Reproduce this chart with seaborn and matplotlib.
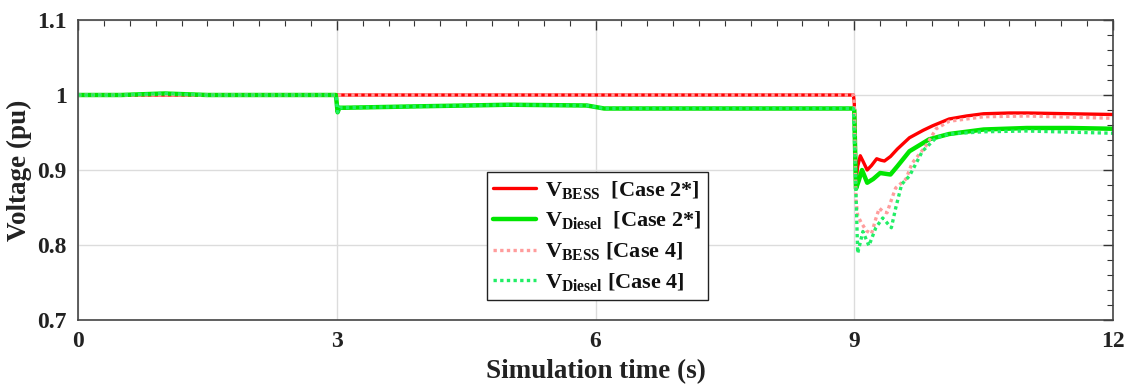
import numpy as np
import pandas as pd
import matplotlib
matplotlib.use("Agg")
import matplotlib.pyplot as plt
import seaborn as sns
from matplotlib.ticker import MultipleLocator, FuncFormatter

# ---------------- data ----------------
t_bess2 = [0, 8.99, 9.0, 9.02, 9.04, 9.07, 9.1, 9.15, 9.2, 9.26, 9.31, 9.35, 9.42, 9.5,
           9.64, 9.8, 9.91, 10.1, 10.3, 10.5, 10.8, 11.0, 11.5, 12.0]
v_bess2 = [1.0, 1.0, 0.99, 0.885, 0.905, 0.919, 0.912, 0.900, 0.906, 0.915, 0.913, 0.912, 0.918, 0.928,
           0.943, 0.953, 0.959, 0.968, 0.972, 0.975, 0.976, 0.976, 0.975, 0.974]

t_dsl2 = [0, 0.5, 1.0, 1.5, 2.0, 2.99, 3.01, 3.03, 3.1, 4.0, 5.0, 5.9, 6.0, 6.1, 8.99,
          9.0, 9.02, 9.05, 9.09, 9.15, 9.22, 9.3, 9.36, 9.42, 9.5, 9.64, 9.87, 10.1, 10.5,
          11.0, 11.5, 12.0]
v_dsl2 = [1.0, 1.0, 1.002, 1.0, 1.0, 1.0, 0.977, 0.983, 0.983, 0.985, 0.987, 0.986, 0.984, 0.982, 0.982,
          0.98, 0.875, 0.885, 0.900, 0.883, 0.888, 0.896, 0.895, 0.894, 0.905, 0.925, 0.941, 0.948, 0.954,
          0.956, 0.956, 0.955]

t_bess4 = [0, 8.99, 9.0, 9.02, 9.04, 9.08, 9.14, 9.2, 9.25, 9.29, 9.33, 9.38, 9.43, 9.48,
           9.6, 9.67, 9.83, 9.95, 10.1, 10.5, 11.0, 12.0]
v_bess4 = [1.0, 1.0, 0.99, 0.86, 0.839, 0.830, 0.819, 0.815, 0.835, 0.849, 0.845, 0.843, 0.860, 0.876,
           0.888, 0.909, 0.932, 0.955, 0.965, 0.971, 0.972, 0.969]

t_dsl4 = [0, 0.5, 1.0, 1.5, 2.0, 2.99, 3.01, 3.03, 3.1, 4.0, 5.0, 5.9, 6.0, 6.1, 8.99,
          9.0, 9.04, 9.1, 9.17, 9.25, 9.33, 9.43, 9.48, 9.55, 9.64, 9.79, 9.95, 10.1,
          10.5, 11.0, 12.0]
v_dsl4 = [1.0, 1.0, 1.002, 1.0, 1.0, 1.0, 0.977, 0.983, 0.983, 0.985, 0.987, 0.986, 0.984, 0.982, 0.982,
          0.95, 0.789, 0.818, 0.799, 0.823, 0.836, 0.823, 0.849, 0.881, 0.892, 0.925, 0.943, 0.948,
          0.951, 0.952, 0.949]

labels = [r'$\mathbf{V}_{\mathbf{BESS}}$  [Case 2*]',
          r'$\mathbf{V}_{\mathbf{Diesel}}$  [Case 2*]',
          r'$\mathbf{V}_{\mathbf{BESS}}$ [Case 4]',
          r'$\mathbf{V}_{\mathbf{Diesel}}$ [Case 4]']

x_ticks = [0, 3, 6, 9, 12]
y_ticks = [0.7, 0.8, 0.9, 1.0, 1.1]

# ---------------- style ----------------
sns.set_theme(style="white")
plt.rcParams['font.family'] = ['Liberation Serif', 'DejaVu Serif']
plt.rcParams['font.weight'] = 'bold'
plt.rcParams['mathtext.fontset'] = 'custom'
plt.rcParams['mathtext.rm'] = 'Liberation Serif:bold'
plt.rcParams['mathtext.bf'] = 'Liberation Serif:bold'
plt.rcParams['mathtext.it'] = 'Liberation Serif:bold'

fig = plt.figure(figsize=(11.29, 3.85), dpi=100)
ax = fig.add_axes([78 / 1129, 1 - 320 / 385, 1035 / 1129, 300 / 385])

series = [
    (t_bess2, v_bess2, '#ff0000', '-', 2.4),
    (t_dsl2, v_dsl2, '#00e600', '-', 3.2),
    (t_bess4, v_bess4, '#ff9c9c', (0, (1, 1)), 2.4),
    (t_dsl4, v_dsl4, '#22ee66', (0, (1, 1)), 2.4),
]
for (t, v, c, ls, lw), lab in zip(series, labels):
    df = pd.DataFrame({'t': t, 'v': v})
    sns.lineplot(data=df, x='t', y='v', ax=ax, color=c, linestyle=ls, linewidth=lw,
                 label=lab, estimator=None, sort=False)

ax.set_xlim(0, 12)
ax.set_ylim(0.7, 1.1)
ax.set_xticks(x_ticks)
ax.set_yticks(y_ticks)
ax.yaxis.set_major_formatter(FuncFormatter(lambda v, p: f'{v:g}'))
ax.xaxis.set_minor_locator(MultipleLocator(0.3))
ax.yaxis.set_minor_locator(MultipleLocator(0.02))
ax.tick_params(which='both', direction='in', top=True, right=True, colors='#333333',
               labelcolor='#222222')
ax.tick_params(which='major', length=7, width=1, labelsize=17, pad=8)
ax.tick_params(which='minor', length=4, width=0.8)
for lab in ax.get_xticklabels() + ax.get_yticklabels():
    lab.set_fontweight('bold')
ax.grid(True, which='major', color='#dcdcdc', linewidth=1)
for s in ax.spines.values():
    s.set_color('#444444')
    s.set_linewidth(1.2)

ax.set_xlabel('Simulation time (s)', fontsize=19.5, fontweight='bold', color='#222222', labelpad=5)
ax.set_ylabel('Voltage (pu)', fontsize=19.5, fontweight='bold', color='#222222', labelpad=4)

leg = ax.legend(loc='lower left', bbox_to_anchor=(0.395, 0.067), fontsize=16,
                frameon=True, fancybox=False, edgecolor='#222222', framealpha=1,
                handlelength=1.9, labelspacing=0.4, borderpad=0.3, handletextpad=0.4,
                borderaxespad=0)
leg.get_frame().set_linewidth(1.0)
for txt in leg.get_texts():
    txt.set_color('#111111')

fig.savefig('out.png', dpi=100)
